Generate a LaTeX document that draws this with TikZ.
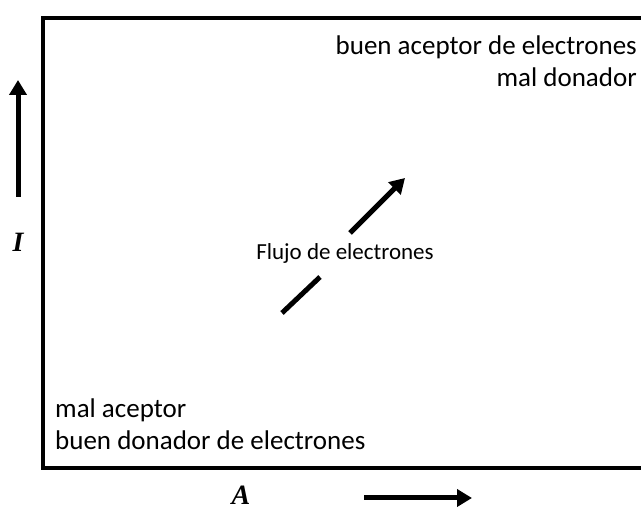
\documentclass[tikz,border=0pt]{standalone}
\usepackage{fontspec}
\setmainfont{Carlito}
\newfontfamily\serifit{Liberation Serif}
\usetikzlibrary{arrows.meta}
\begin{document}
\begin{tikzpicture}[x=1pt,y=1pt,
  lbl/.style={inner sep=0pt,font=\fontsize{27}{32}\selectfont},
  thick arrow/.style={line width=5pt,-{Triangle[length=15pt,width=17pt]}},
  axislbl/.style={inner sep=0pt,font=\serifit\bfseries\itshape\fontsize{28}{30}\selectfont}]
\useasboundingbox (0,0) rectangle (641,511);
\clip (0,0) rectangle (641,511);
\draw[line width=4pt] (43,493) rectangle (680,43);
\node[lbl,anchor=east,align=right] (tr) at (637,450) {buen aceptor de electrones\\mal donador};
\node[lbl,anchor=west,align=left] (bl) at (55,87) {mal aceptor\\buen donador de electrones};
\node[inner sep=2pt,font=\fontsize{23}{26}\selectfont] (flow) at (345,258) {Flujo de electrones};
\coordinate (f1) at (282,198);
\coordinate (f2) at (320,234);
\coordinate (f3) at (350,278);
\coordinate (f4) at (405,333);
\draw[line width=5pt] (f1) -- (f2);
\draw[thick arrow] (f3) -- (f4);
\node[axislbl] (I) at (18,269) {I};
\coordinate (i1) at (18,314);
\coordinate (i2) at (18,431);
\draw[thick arrow] (i1) -- (i2);
\node[axislbl,anchor=base] (A) at (241,6) {A};
\coordinate (a1) at (364,13);
\coordinate (a2) at (472,13);
\draw[thick arrow] (a1) -- (a2);
\end{tikzpicture}
\end{document}
